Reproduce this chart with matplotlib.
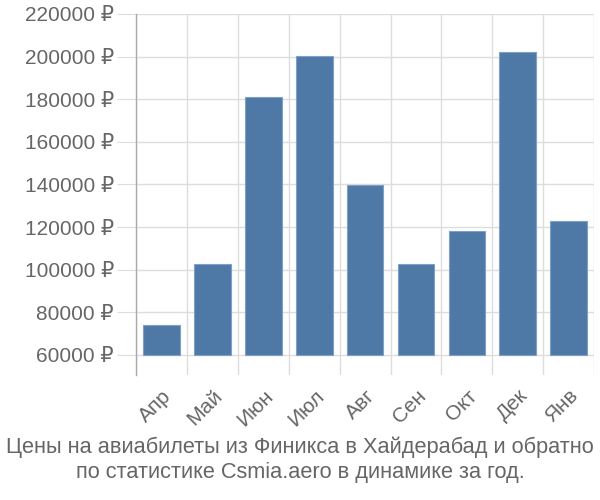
import matplotlib
matplotlib.use("Agg")
import matplotlib.pyplot as plt
import numpy as np

plt.rcParams['font.family'] = ['Liberation Sans', 'DejaVu Sans']

# данные
months = ['Апр', 'Май', 'Июн', 'Июл', 'Авг', 'Сен', 'Окт', 'Дек', 'Янв']
prices = [74000, 102600, 181000, 200300, 139700, 102600, 118400, 202400, 122800]
yticks = [60000, 80000, 100000, 120000, 140000, 160000, 180000, 200000, 220000]
title = "Цены на авиабилеты из Финикса в Хайдерабад и обратно\nпо статистике Csmia.aero в динамике за год."

base = 60000
text_col = '#666666'
grid_col = '#dddddd'

fig = plt.figure(figsize=(6, 5), dpi=100)
ax = fig.add_axes([0.227, 0.25, 0.763, 0.722])

x = np.arange(len(months))
ax.bar(x, np.array(prices) - base, bottom=base, width=0.72,
       color='#4e79a7', edgecolor='#7f9fc4', linewidth=0.8, zorder=3)

ax.set_xlim(-0.5, len(months) - 0.5)
ax.set_ylim(50600, 220000)

ax.set_yticks(yticks)
ax.set_yticklabels(['%d ₽' % v for v in yticks])
ax.set_xticks(x)
ax.set_xticklabels(months, rotation=45, ha='right', rotation_mode='anchor')

# сетка по границам категорий
ax.set_xticks(np.arange(len(months) + 1) - 0.5, minor=True)
ax.grid(which='minor', axis='x', color=grid_col, linewidth=1, zorder=0)
ax.grid(which='major', axis='y', color=grid_col, linewidth=1, zorder=0)

ax.tick_params(axis='y', length=14, color=grid_col, labelsize=15, labelcolor=text_col, pad=2)
ax.tick_params(axis='x', which='major', length=0, labelsize=15, labelcolor=text_col, pad=8)
ax.tick_params(axis='x', which='minor', length=0)

for s in ['top', 'right', 'bottom']:
    ax.spines[s].set_visible(False)
ax.spines['left'].set_color('#aaaaaa')
ax.spines['left'].set_linewidth(1)

fig.text(0.5, 0.081, title, ha='center', va='center', fontsize=15.7,
         color=text_col, linespacing=1.22)

fig.savefig('out.png', dpi=100)
